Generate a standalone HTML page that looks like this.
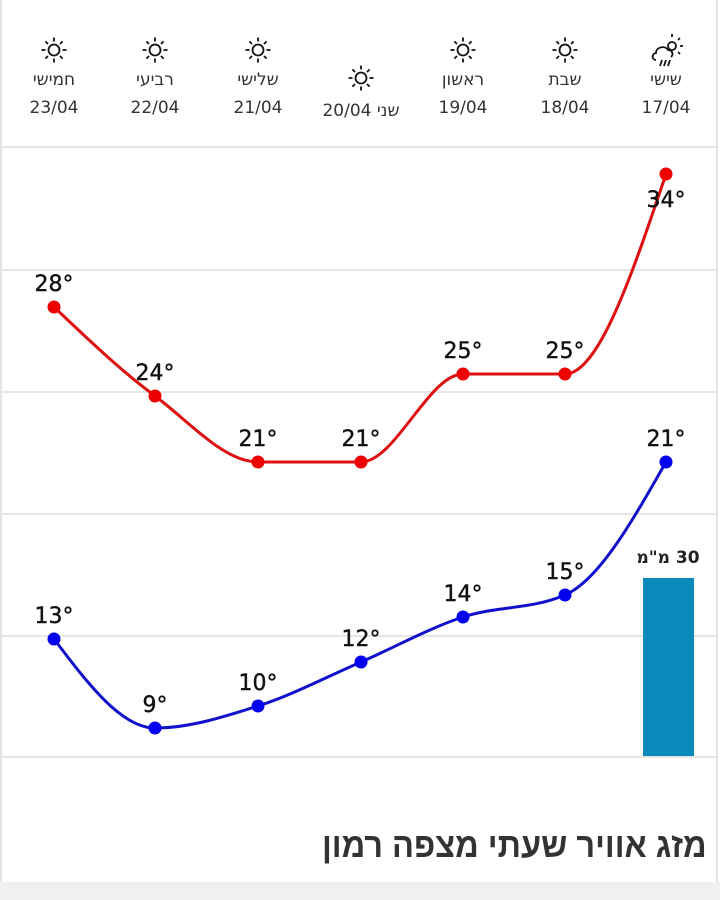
<!DOCTYPE html>
<html><head><meta charset="utf-8"><style>
html,body{margin:0;padding:0;background:#fff;}
body{width:720px;height:900px;position:relative;overflow:hidden;font-family:"DejaVu Sans","Liberation Sans","Noto Sans CJK SC",sans-serif;}
.d{position:absolute;width:100px;text-align:center;font-size:17px;color:#333;line-height:28px;}
.t{position:absolute;font-family:"Liberation Sans","DejaVu Sans",sans-serif;font-weight:bold;font-size:35px;color:#333;right:13px;top:826px;direction:rtl;transform:scaleX(0.93);transform-origin:right center;}
</style></head><body>
<div style="position:absolute;left:0;top:0;width:2px;height:882px;background:#e4e4e4"></div>
<div style="position:absolute;left:716px;top:0;width:2px;height:882px;background:#e4e4e4"></div>
<div style="position:absolute;left:0;top:882px;width:720px;height:18px;background:#f0f0f0"></div>
<svg width="720" height="900" style="position:absolute;left:0;top:0">
<defs><g id="sun" stroke="#111" stroke-width="1.8" fill="none"><circle r="5.5"/><path d="M0-8.5v-4M0 8.5v4M-8.5 0h-4M8.5 0h4M6-6l2.6-2.6M-6-6l-2.6-2.6M6 6l2.6 2.6M-6 6l-2.6 2.6"/></g></defs>
<use href="#sun" x="54" y="50"/><use href="#sun" x="155" y="50"/><use href="#sun" x="258" y="50"/><use href="#sun" x="361" y="78"/><use href="#sun" x="463" y="50"/><use href="#sun" x="565" y="50"/>
<g stroke="#111" stroke-width="1.8" fill="none"><circle cx="672" cy="46" r="4"/><path d="M672 37v-3M680 46h3M678 40l2-2M678 52l2 2M656 60c-4 0-5-6 0-7c0-6 9-8 12-3c4 0 6 4 3 7M662 60l-2 6M666 60l-2 6M670 60l-2 6"/></g>
<g stroke="#e6e6e6" stroke-width="2"><line x1="2" x2="716" y1="147" y2="147"/><line x1="2" x2="716" y1="270" y2="270"/><line x1="2" x2="716" y1="392" y2="392"/><line x1="2" x2="716" y1="514" y2="514"/><line x1="2" x2="716" y1="636" y2="636"/><line x1="2" x2="716" y1="757" y2="757"/></g>
<rect x="643" y="578" width="51" height="178" fill="#0a8abb"/>
<text x="668" y="563" font-size="17" font-weight="bold" text-anchor="middle" fill="#222" font-family="DejaVu Sans,sans-serif" direction="rtl">30 מ"מ</text>
<path d="M54 307C87.7 339 121.3 371 155 396C189.3 421.4 223.7 462 258 462C292.3 462 326.7 462 361 462C395 462 429 374 463 374C497 374 531 374 565 374C598.7 374 632.3 274 666 174" stroke="#dd1111" stroke-width="3" fill="none"/>
<path d="M54 639C87.7 683.5 121.3 728 155 728C189.3 728 223.7 717 258 706C292.3 695 326.7 676.9 361 662C395 647.2 429 628.2 463 617C497 605.8 531 609.6 565 595C598.7 580.5 632.3 521.3 666 462" stroke="#1111cc" stroke-width="3" fill="none"/>
<g fill="#ee0000"><circle cx="54" cy="307" r="6.5"/><circle cx="155" cy="396" r="6.5"/><circle cx="258" cy="462" r="6.5"/><circle cx="361" cy="462" r="6.5"/><circle cx="463" cy="374" r="6.5"/><circle cx="565" cy="374" r="6.5"/><circle cx="666" cy="174" r="6.5"/></g>
<g fill="#0000ee"><circle cx="54" cy="639" r="6.5"/><circle cx="155" cy="728" r="6.5"/><circle cx="258" cy="706" r="6.5"/><circle cx="361" cy="662" r="6.5"/><circle cx="463" cy="617" r="6.5"/><circle cx="565" cy="595" r="6.5"/><circle cx="666" cy="462" r="6.5"/></g>
<g font-size="22" text-anchor="middle" fill="#111" stroke="#111" stroke-width="0.4" font-family="DejaVu Sans,sans-serif">
<text x="54" y="291">28°</text><text x="155" y="380">24°</text><text x="258" y="446">21°</text><text x="361" y="446">21°</text><text x="463" y="358">25°</text><text x="565" y="358">25°</text><text x="666" y="207">34°</text>
<text x="54" y="623">13°</text><text x="155" y="712">9°</text><text x="258" y="690">10°</text><text x="361" y="646">12°</text><text x="463" y="601">14°</text><text x="565" y="579">15°</text><text x="666" y="446">21°</text>
</g>
</svg>
<div class="d" style="left:4px;top:66px">חמישי<br>23/04</div>
<div class="d" style="left:105px;top:66px">רביעי<br>22/04</div>
<div class="d" style="left:208px;top:66px">שלישי<br>21/04</div>
<div class="d" style="left:301px;top:97px;width:120px" dir="rtl">שני 20/04</div>
<div class="d" style="left:413px;top:66px">ראשון<br>19/04</div>
<div class="d" style="left:515px;top:66px">שבת<br>18/04</div>
<div class="d" style="left:616px;top:66px">שישי<br>17/04</div>
<div class="t">מזג אוויר שעתי מצפה רמון</div>
</body></html>
